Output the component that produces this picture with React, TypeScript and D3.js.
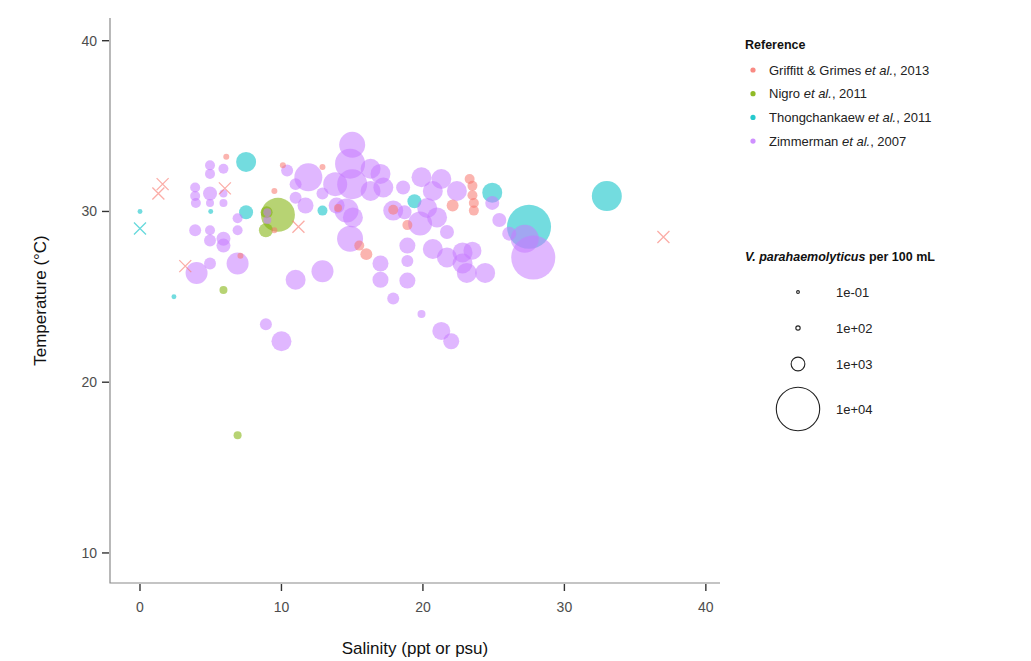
import { useEffect, useRef } from 'react'
import * as d3 from 'd3'

// salinity (ppt), temperature (°C), V. parahaemolyticus per 100 mL (null = not reported, drawn as a cross)
const GRIFFITT_SAL = [1.3, 1.6, 6.0, 3.2, 11.2, 37.0, 6.1, 9.5, 10.1, 9.5, 7.1, 12.9, 14.0, 17.9, 18.9, 15.5, 16.0, 22.1, 23.3, 23.5, 23.5, 23.6, 23.6]
const GRIFFITT_TEMP = [31.05, 31.6, 31.35, 26.8, 29.1, 28.5, 33.2, 31.2, 32.7, 28.9, 27.4, 32.6, 30.2, 30.1, 29.2, 28.0, 27.5, 30.35, 31.9, 31.5, 30.95, 30.5, 30.05]
const GRIFFITT_VP = [null, null, null, null, null, null, 190, 190, 190, 190, 190, 190, 340, 530, 530, 530, 760, 760, 530, 530, 530, 530, 530]

const NIGRO_SAL = [9.75, 8.9, 8.95, 5.9, 6.9]
const NIGRO_TEMP = [29.8, 28.9, 29.95, 25.4, 16.9]
const NIGRO_VP = [6140, 1040, 760, 340, 340]

const THONG_SAL = [0, 0, 2.4, 5.0, 7.5, 7.5, 12.9, 19.4, 24.9, 27.5, 33.0]
const THONG_TEMP = [29.0, 30.0, 25.0, 30.0, 32.9, 29.95, 30.05, 30.6, 31.1, 29.1, 30.9]
const THONG_VP = [null, 130, 130, 130, 2120, 1040, 530, 1040, 2120, 10300, 4780]

const ZIMM_SAL = [
  4.95, 4.95, 5.9, 3.9, 3.9, 3.95, 4.95, 4.95, 5.9, 5.9, 6.9, 6.9, 3.9, 4.95, 4.95, 5.9, 5.9, 4.95, 4.0, 6.9,
  11.0, 9.0, 9.0, 10.4, 11.0, 11.0, 11.9, 11.7, 15.0, 14.85, 13.8, 15.0, 17.0, 17.2, 16.3, 16.3, 12.9, 14.6, 15.05, 13.9,
  17.9, 14.85, 12.9, 17.0, 17.0, 18.9, 18.9, 18.6, 19.9, 21.3, 22.4, 20.7, 20.3, 19.8, 21.0, 18.7, 18.9, 20.7, 21.7, 22.8,
  23.5, 22.8, 23.1, 24.4, 21.7, 24.9, 25.4, 27.2, 27.8, 26.1, 17.9, 19.9, 21.3, 22.0, 8.9, 10.0,
]
const ZIMM_TEMP = [
  32.7, 32.2, 32.5, 31.4, 30.9, 30.5, 31.05, 30.5, 31.05, 30.5, 29.6, 28.9, 28.9, 28.9, 28.3, 28.4, 28.0, 26.95, 26.4, 26.95,
  26.0, 29.95, 29.5, 32.4, 31.6, 30.8, 32.0, 30.35, 33.9, 32.8, 31.6, 31.6, 32.2, 31.4, 31.2, 32.5, 31.05, 30.05, 29.65, 30.35,
  30.05, 28.4, 26.5, 26.95, 26.0, 28.0, 27.1, 31.4, 32.0, 31.9, 31.2, 31.2, 30.2, 29.3, 29.65, 29.95, 25.95, 27.8, 28.8, 27.6,
  27.7, 26.95, 26.4, 26.4, 27.3, 30.5, 29.5, 28.4, 27.3, 28.7, 24.9, 24.0, 23.0, 22.4, 23.4, 22.4,
]
const ZIMM_VP = [
  530, 530, 530, 530, 530, 530, 1040, 340, 340, 340, 530, 530, 760, 530, 760, 1040, 1040, 760, 2570, 2570,
  2120, 340, 340, 760, 760, 760, 4160, 1360, 3590, 4780, 3060, 4780, 2120, 2120, 2120, 2120, 760, 3060, 2120, 1360,
  2120, 3590, 2570, 1360, 1360, 1360, 760, 1040, 2120, 2120, 2120, 2120, 2120, 3060, 2120, 1040, 1360, 2120, 1040, 2120,
  1720, 2120, 2120, 2120, 2120, 1040, 1040, 4160, 10300, 1040, 760, 340, 1720, 1360, 760, 2120,
]

const X_TICKS = [0, 10, 20, 30, 40]
const Y_TICKS = [10, 20, 30, 40]
const SIZE_BREAKS = [0.1, 100, 1000, 10000]
const SIZE_LABELS = ['1e-01', '1e+02', '1e+03', '1e+04']

const REFS = [
  { name: 'Griffitt & Grimes ', year: ', 2013', color: '#F8766D', sal: GRIFFITT_SAL, temp: GRIFFITT_TEMP, vp: GRIFFITT_VP },
  { name: 'Nigro ', year: ', 2011', color: '#7CAE00', sal: NIGRO_SAL, temp: NIGRO_TEMP, vp: NIGRO_VP },
  { name: 'Thongchankaew ', year: ', 2011', color: '#00BFC4', sal: THONG_SAL, temp: THONG_TEMP, vp: THONG_VP },
  { name: 'Zimmerman ', year: ', 2007', color: '#C77CFF', sal: ZIMM_SAL, temp: ZIMM_TEMP, vp: ZIMM_VP },
]
// order in which the references are painted (later ones on top)
const DRAW_ORDER = [2, 1, 3, 0]

const FONT = '"Liberation Sans", Arial, Helvetica, sans-serif'

export default function App() {
  const svgRef = useRef<SVGSVGElement>(null)

  useEffect(() => {
    if (!svgRef.current) return
    const svg = d3.select(svgRef.current)
    svg.selectAll('*').remove()

    const left = 110, right = 720, top = 18, bottom = 583
    const x = d3.scaleLinear().domain([-2.12, 41.0]).range([left, right])
    const y = d3.scaleLinear().domain([8.24, 41.33]).range([bottom, top])
    const size = d3.scaleSqrt().domain([0, 10000]).range([0, 21.7])

    // axes (L shaped, ggplot classic look)
    const axisG = svg.append('g').attr('font-family', FONT)
    axisG.append('path')
      .attr('d', `M${left},${top}V${bottom}H${right}`)
      .attr('fill', 'none').attr('stroke', '#8a8a8a').attr('stroke-width', 1.2)

    Y_TICKS.forEach(t => {
      axisG.append('line').attr('x1', left - 8).attr('x2', left - 1).attr('y1', y(t)).attr('y2', y(t))
        .attr('stroke', '#333').attr('stroke-width', 1.4)
      axisG.append('text').attr('x', left - 13).attr('y', y(t)).attr('dy', '0.35em')
        .attr('text-anchor', 'end').attr('font-size', 14).attr('fill', '#4d4d4d').text(t)
    })
    X_TICKS.forEach(t => {
      axisG.append('line').attr('x1', x(t)).attr('x2', x(t)).attr('y1', bottom + 1).attr('y2', bottom + 8)
        .attr('stroke', '#333').attr('stroke-width', 1.4)
      axisG.append('text').attr('x', x(t)).attr('y', bottom + 24).attr('dy', '0.35em')
        .attr('text-anchor', 'middle').attr('font-size', 14).attr('fill', '#4d4d4d').text(t)
    })

    axisG.append('text').attr('x', (left + right) / 2).attr('y', 648).attr('dy', '0.35em')
      .attr('text-anchor', 'middle').attr('font-size', 17).attr('fill', '#111').text('Salinity (ppt or psu)')
    axisG.append('text').attr('transform', `translate(40,${(top + bottom) / 2}) rotate(-90)`).attr('dy', '0.35em')
      .attr('text-anchor', 'middle').attr('font-size', 17).attr('fill', '#111').text('Temperature (°C)')

    // points, drawn reference by reference
    const plot = svg.append('g')
    DRAW_ORDER.forEach(i => {
      const ref = REFS[i]
      ref.sal.forEach((s, k) => {
        const v = ref.vp[k]
        const cx = x(s), cy = y(ref.temp[k])
        if (v == null) {
          const h = 6
          plot.append('path')
            .attr('d', `M${cx - h},${cy - h}L${cx + h},${cy + h}M${cx - h},${cy + h}L${cx + h},${cy - h}`)
            .attr('stroke', ref.color).attr('stroke-opacity', 0.6).attr('stroke-width', 1.3).attr('fill', 'none')
        } else {
          plot.append('circle').attr('cx', cx).attr('cy', cy).attr('r', Math.max(1.5, size(v)))
            .attr('fill', ref.color).attr('fill-opacity', 0.55)
        }
      })
    })

    // legend: reference
    const lg = svg.append('g').attr('font-family', FONT)
    lg.append('text').attr('x', 745).attr('y', 45).attr('dy', '0.35em').attr('font-size', 12.5)
      .attr('font-weight', 'bold').attr('fill', '#111').text('Reference')
    REFS.forEach((ref, i) => {
      const ly = 70 + i * 23.7
      lg.append('circle').attr('cx', 753).attr('cy', ly).attr('r', 2.6)
        .attr('fill', ref.color).attr('fill-opacity', 0.85)
      const t = lg.append('text').attr('x', 769).attr('y', ly).attr('dy', '0.35em')
        .attr('font-size', 13).attr('fill', '#222')
      t.append('tspan').text(ref.name)
      t.append('tspan').attr('font-style', 'italic').text('et al.')
      t.append('tspan').text(ref.year)
    })

    // legend: size
    const st = lg.append('text').attr('x', 745).attr('y', 257).attr('dy', '0.35em').attr('font-size', 12.5)
      .attr('font-weight', 'bold').attr('fill', '#111')
    st.append('tspan').attr('font-style', 'italic').text('V. parahaemolyticus')
    st.append('tspan').text(' per 100 mL')
    const sizeY = [292, 328, 364, 409]
    SIZE_BREAKS.forEach((b, i) => {
      lg.append('circle').attr('cx', 798).attr('cy', sizeY[i]).attr('r', Math.max(1.4, size(b)))
        .attr('fill', 'none').attr('stroke', '#222').attr('stroke-width', 1.1)
      lg.append('text').attr('x', 836).attr('y', sizeY[i]).attr('dy', '0.35em')
        .attr('font-size', 13).attr('fill', '#222').text(SIZE_LABELS[i])
    })
  }, [])

  return (
    <svg ref={svgRef} width={1031} height={661}
      style={{ position: 'absolute', left: 0, top: 0, display: 'block', background: '#fff' }} />
  )
}
